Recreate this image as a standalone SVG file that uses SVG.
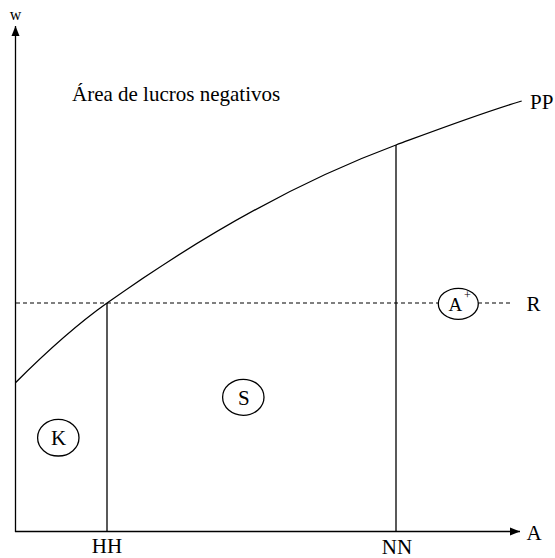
<svg xmlns="http://www.w3.org/2000/svg" width="555" height="558" viewBox="0 0 555 558">
<defs>
<style>
.ln{fill:none;stroke:#000;stroke-width:1.3}
.ds{fill:none;stroke:#000;stroke-width:1.2;stroke-dasharray:4,3}
.el{fill:#fff;stroke:#000;stroke-width:1.3}
text{font-family:"Liberation Serif","Times New Roman",serif;fill:#000}
.lb{font-size:21px}
</style>
<marker id="ah" viewBox="0 0 10 10" refX="10" refY="5" markerWidth="10" markerHeight="10" markerUnits="userSpaceOnUse" orient="auto">
<path d="M0,1 L10,5 L0,9 Z" fill="#000"/>
</marker>
</defs>
<rect width="555" height="558" fill="#fff"/>
<g id="connectors">
<line class="ln" x1="15.5" y1="532" x2="15.5" y2="26" marker-end="url(#ah)"/>
<line class="ln" x1="15" y1="531.5" x2="520" y2="531.5" marker-end="url(#ah)"/>
<line class="ds" x1="16" y1="303" x2="510" y2="303"/>
<line class="ln" x1="107" y1="303" x2="107" y2="531.5"/>
<line class="ln" x1="396" y1="145" x2="396" y2="531.5"/>
<path class="ln" d="M15.7,382.5 C46,352.2 76.4,324.8 106.7,303.3 C203.1,234.8 299.6,180.7 396,145 C437.9,129.5 479.8,113.6 521.7,101"/>
</g>
<g id="axis-labels">
<text x="15.5" y="20" font-size="16" text-anchor="middle">w</text>
<text class="lb" x="526.5" y="540">A</text>
<text class="lb" x="107" y="553" text-anchor="middle">HH</text>
<text class="lb" x="397" y="554" text-anchor="middle">NN</text>
<text class="lb" x="526.5" y="310.5">R</text>
<text class="lb" x="530" y="109">PP</text>
<text class="lb" x="72" y="101">Área de lucros negativos</text>
</g>
<g id="node-K">
<ellipse class="el" cx="58.3" cy="437.7" rx="20.7" ry="18.3"/>
<text x="58.5" y="445" font-size="21" text-anchor="middle">K</text>
</g>
<g id="node-S">
<ellipse class="el" cx="243.3" cy="397.3" rx="20.7" ry="18"/>
<text x="243.8" y="405" font-size="21" text-anchor="middle">S</text>
</g>
<g id="node-Aplus">
<ellipse class="el" cx="458.3" cy="303.8" rx="20" ry="15.5"/>
<text x="448.5" y="310.5" font-size="19">A</text>
<text x="464" y="299" font-size="12">+</text>
</g>
</svg>
